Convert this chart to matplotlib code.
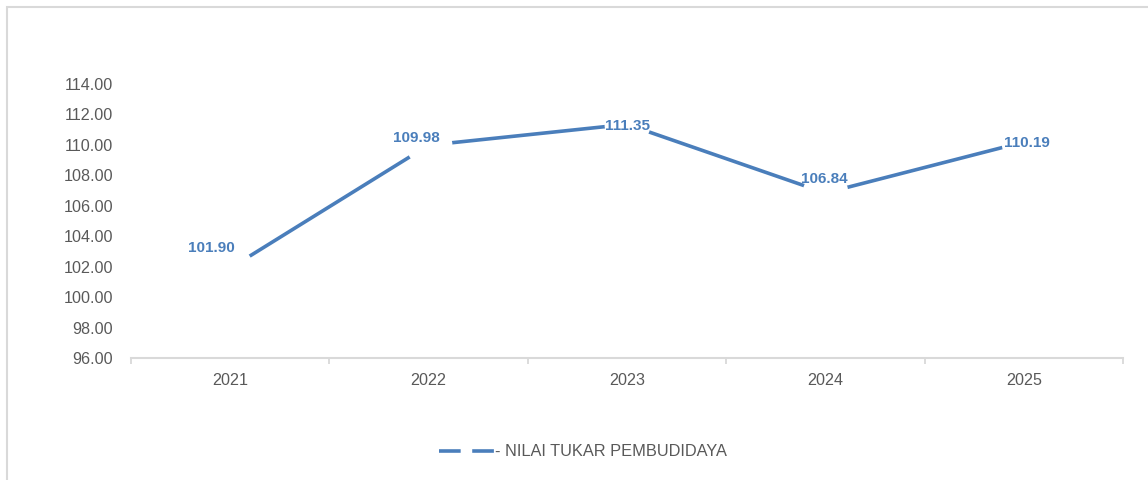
import matplotlib.pyplot as plt
from matplotlib.lines import Line2D
from matplotlib.patches import Rectangle

years = ["2021", "2022", "2023", "2024", "2025"]
ntpi = [101.90, 109.98, 111.35, 106.84, 110.19]
label_offsets = [(-19, 20), (-12, 7), (0, -2), (-1, 14), (3, -1)]  # pixels

blue = "#4A7EBB"
grey_txt = "#595959"
grey_line = "#D9D9D9"

plt.rcParams["font.family"] = ["Liberation Sans", "DejaVu Sans"]

fig = plt.figure(figsize=(11.48, 4.8), dpi=100)
ax = fig.add_axes([131 / 1148, 1 - 358 / 480, (1123 - 131) / 1148, (358 - 84) / 480])

x = list(range(len(years)))
ax.plot(x, ntpi, color=blue, lw=2.6, solid_capstyle="butt", zorder=2)
# white markers hide the line around each point, like the original
ax.plot(x, ntpi, ls="none", marker="o", ms=33, mfc="white", mec="none", zorder=2.5)

for xi, v, (dx, dy) in zip(x, ntpi, label_offsets):
    ax.annotate(f"{v:.2f}", (xi, v), xytext=(dx, dy), textcoords="offset pixels",
                ha="center", va="center", fontsize=11, fontweight="bold", color=blue,
                zorder=3)

ax.set_xlim(-0.5, len(years) - 0.5)
ax.set_ylim(96, 114)
ax.set_yticks([96 + 2 * i for i in range(10)])
ax.set_yticklabels([f"{96 + 2 * i:.2f}" for i in range(10)])
ax.set_xticks(x)
ax.set_xticklabels(years)
ax.set_xticks([i - 0.5 for i in range(len(years) + 1)], minor=True)

ax.tick_params(axis="y", length=0, pad=13, labelsize=11.6, labelcolor=grey_txt)
ax.tick_params(axis="x", which="major", length=0, pad=11, labelsize=11.6, labelcolor=grey_txt)
ax.tick_params(axis="x", which="minor", length=4, width=1.3, color=grey_line)

for s in ["top", "right", "left"]:
    ax.spines[s].set_visible(False)
ax.spines["bottom"].set_color(grey_line)
ax.spines["bottom"].set_linewidth(1.5)

handle = Line2D([], [], color=blue, lw=2.6, dashes=(6, 3.2))
fig.legend([handle], ["- NILAI TUKAR PEMBUDIDAYA"], loc="center",
           bbox_to_anchor=(583 / 1148, 1 - 452 / 480), frameon=False,
           handlelength=3.4, handletextpad=0.05, fontsize=11.8, labelcolor=grey_txt)

fig.patches.append(Rectangle((7 / 1148, -0.1), 1.2, 1.1 - 7 / 480, transform=fig.transFigure,
                             fill=False, ec=grey_line, lw=1.5))

fig.savefig("out.png", dpi=100)
